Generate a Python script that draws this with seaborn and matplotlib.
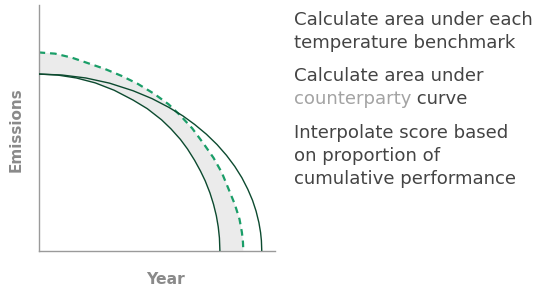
import matplotlib
matplotlib.use("Agg")
import matplotlib.pyplot as plt
import pandas as pd
import seaborn as sns

# pathways (x: time, y: emissions, both 0-100)
inner_x = [0, 8, 16, 24, 32, 40, 46, 52, 56, 60, 63, 66, 68.5, 70.5, 72.5, 74, 75.2, 76, 76.5, 76.7]
inner_y = [71.9, 71.5, 70.3, 68.3, 65.3, 61.3, 57.8, 53.3, 49.6, 45.3, 41.4, 36.8, 32.4, 28.4, 23.5, 18.9, 14.2, 9.7, 5.2, 0]

outer_x = [0, 10, 20, 30, 40, 48, 55, 61, 66, 71, 75.5, 79.5, 83, 86, 88.5, 90.5, 92, 93.2, 93.9, 94.25, 94.4]
outer_y = [71.9, 71.5, 70.3, 68.2, 65.1, 61.9, 58.4, 54.9, 51.4, 47.4, 43.2, 38.8, 34.3, 29.7, 25.0, 20.5, 16.1, 11.4, 7.4, 4.1, 0]

dash_x = [0, 7, 14, 21, 28, 35, 42, 49, 55, 60, 65, 70, 74, 77.5, 80.5, 83, 85, 86, 86.45, 86.6]
dash_y = [80.7, 80.2, 78.6, 76.3, 74.0, 71.2, 67.9, 63.8, 59.6, 55.0, 49.8, 43.3, 37.8, 31.8, 24.8, 18.9, 12.8, 7.5, 3.5, 0]

steps = [
    [("Calculate area under each", "#444444")],
    [("temperature benchmark", "#444444")],
    [("Calculate area under", "#444444")],
    [("counterparty", "#a3a3a3"), (" curve", "#444444")],
    [("Interpolate score based", "#444444")],
    [("on proportion of", "#444444")],
    [("cumulative performance", "#444444")],
]
step_y = [20, 42.7, 76, 99, 133, 155.7, 178.5]

sns.set_style("white")
plt.rcParams["font.family"] = ["DejaVu Sans"]

fig = plt.figure(figsize=(5.4, 2.93), dpi=100)
ax = fig.add_axes([38.5 / 540, 1 - 250.7 / 293, (275 - 38.5) / 540, (250.7 - 5) / 293])

poly = pd.DataFrame({
    "x": dash_x + inner_x[::-1],
    "y": dash_y + inner_y[::-1],
})
ax.fill(poly["x"], poly["y"], color="#ebebeb", lw=0, zorder=1)

dark = "#0c4a2f"
green = "#1a9e68"
sns.lineplot(x=inner_x, y=inner_y, sort=False, estimator=None, color=dark, lw=1.0, ax=ax, zorder=3)
sns.lineplot(x=outer_x, y=outer_y, sort=False, estimator=None, color=dark, lw=1.0, ax=ax, zorder=3)
sns.lineplot(x=dash_x, y=dash_y, sort=False, estimator=None, color=green, lw=1.6, ax=ax, zorder=2)
ax.lines[-1].set_dashes((3.0, 2.2))

ax.set_xlim(0, 100)
ax.set_ylim(0, 100)
ax.set_xticks([])
ax.set_yticks([])
for side in ["top", "right"]:
    ax.spines[side].set_visible(False)
for side in ["left", "bottom"]:
    ax.spines[side].set_color("#9a9a9a")
    ax.spines[side].set_linewidth(1.0)

renderer = fig.canvas.get_renderer()


def fit_size(s, width_px, weight="normal"):
    t = fig.text(0, 0, s, fontsize=10, fontweight=weight)
    w = t.get_window_extent(renderer=renderer).width
    t.remove()
    return 10 * width_px / w


fig.text(165.5 / 540, 1 - 279 / 293, "Year", ha="center", va="center",
         fontsize=fit_size("Year", 39, "bold"), fontweight="bold", color="#8a8a8a")
fig.text(16 / 540, 1 - 130 / 293, "Emissions", ha="center", va="center", rotation=90,
         fontsize=fit_size("Emissions", 85, "bold"), fontweight="bold", color="#8a8a8a")

size = fit_size("Calculate area under each", 239)
for parts, yy in zip(steps, step_y):
    xx = 294 / 540
    for s, c in parts:
        t = fig.text(xx, 1 - yy / 293, s, ha="left", va="center", fontsize=size, color=c)
        bb = t.get_window_extent(renderer=renderer)
        xx += bb.width / fig.bbox.width

fig.savefig("out.png", dpi=100)
